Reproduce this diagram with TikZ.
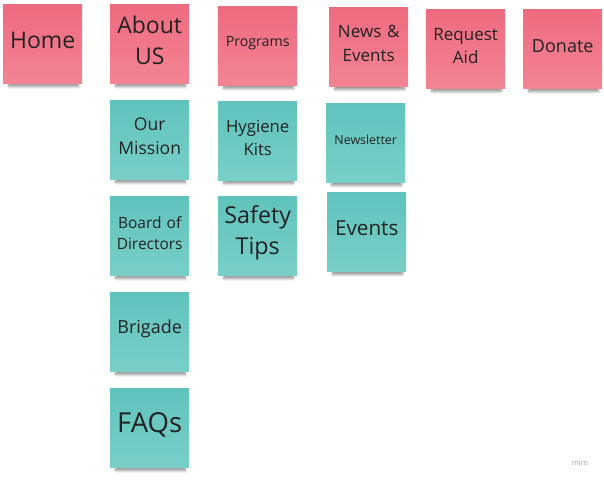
\documentclass[tikz,border=0pt]{standalone}
\usepackage{fontspec}
\setmainfont{Open Sans}
\usepackage{tikz}
\usetikzlibrary{shadows.blur}

\definecolor{pinktop}{HTML}{EE6A7F}
\definecolor{pinkbot}{HTML}{F38493}
\definecolor{tealtop}{HTML}{60C3BC}
\definecolor{tealbot}{HTML}{78CFC8}
\definecolor{notetext}{HTML}{222222}

\newcommand{\fsz}[2]{\fontsize{#1pt}{#2pt}\selectfont}

\tikzset{
    note/.style={
        anchor=north west,
        minimum width=79pt,
        minimum height=79pt,
        text width=75pt,
        inner sep=2pt,
        align=center,
        text=notetext,
        execute at end node={\par\nointerlineskip\hrule height 0pt depth 6pt width 0pt},
        blur shadow={shadow xshift=1pt, shadow yshift=-9pt, shadow scale=0.88, shadow opacity=45, shadow blur radius=3pt, shadow blur steps=8}
    },
    pinknote/.style={note, top color=pinktop, bottom color=pinkbot},
    tealnote/.style={note, top color=tealtop, bottom color=tealbot}
}

\begin{document}
\begin{tikzpicture}[x=1pt, y=-1pt]
    \useasboundingbox (0,0) rectangle (604,480);
    \node[pinknote, font=\fsz{23}{31}] (home) at (3,4) {Home};
    \node[pinknote, font=\fsz{23}{31}] (about) at (110,4) {About\\US};
    \node[pinknote, font=\fsz{14.2}{20}] (programs) at (218,6) {Programs};
    \node[pinknote, font=\fsz{17}{24}] (news) at (329,7) {News \&\\Events};
    \node[pinknote, font=\fsz{17}{23}] (request) at (426,9) {Request\\Aid};
    \node[pinknote, font=\fsz{18}{25}] (donate) at (523,9) {Donate};
    \node[tealnote, font=\fsz{17.5}{24}] (mission) at (110,100) {Our\\Mission};
    \node[tealnote, font=\fsz{15.5}{21}] (board) at (110,196) {Board of\\Directors};
    \node[tealnote, font=\fsz{18}{25}] (brigade) at (110,292) {Brigade};
    \node[tealnote, font=\fsz{27.5}{37}] (faqs) at (110,388) {FAQs};
    \node[tealnote, font=\fsz{16.7}{23}] (hygiene) at (218,101) {Hygiene\\Kits};
    \node[tealnote, font=\fsz{23.3}{31}] (safety) at (218,196) {Safety\\Tips};
    \node[tealnote, font=\fsz{12.4}{17}] (newsletter) at (326,103) {Newsletter};
    \node[tealnote, font=\fsz{20.7}{28}] (events) at (327,192) {Events};
    \node[text=black!35, font=\fsz{7.5}{9}] (miro) at (580,463) {miro};
\end{tikzpicture}
\end{document}
